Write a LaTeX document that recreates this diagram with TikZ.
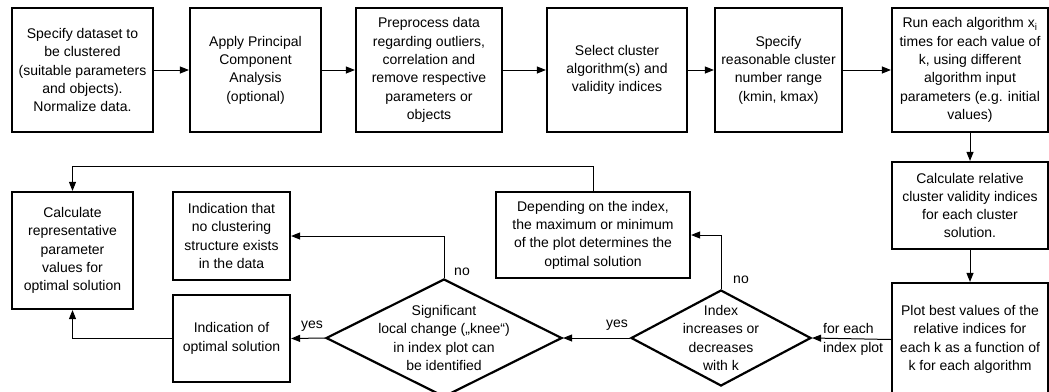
\documentclass[tikz,border=0pt]{standalone}
\usepackage{fontspec}
\setmainfont{Liberation Sans}
\usetikzlibrary{arrows.meta,shapes.geometric}
\newcommand{\fsz}{\fontsize{14}{18.3}\selectfont}
\tikzset{
  box/.style={draw, line width=2.2pt, align=center, inner sep=2pt, font=\fsz},
  dia/.style={draw, diamond, line width=2.2pt, inner sep=0pt},
  conn/.style={line width=1pt, -{Triangle[length=9pt,width=7pt]}},
  lbl/.style={font=\fsz, inner sep=0pt, align=left},
}
\begin{document}
\begin{tikzpicture}[x=1pt,y=-1pt]
\useasboundingbox (0,0) rectangle (1049,391);
% top row
\node[box, minimum width=141, minimum height=124] (b1) at (82.5,70)
  {Specify dataset to\\be clustered\\(suitable parameters\\and objects).\\Normalize data.};
\node[box, minimum width=131, minimum height=124] (b2) at (255.5,70)
  {Apply Principal\\Component\\Analysis\\(optional)};
\node[box, minimum width=146, minimum height=124] (b3) at (429,70)
  {Preprocess data\\regarding outliers,\\correlation and\\remove respective\\parameters or\\objects};
\node[box, minimum width=140, minimum height=124] (b4) at (617,70)
  {Select cluster\\algorithm(s) and\\validity indices};
\node[box, minimum width=127, minimum height=124] (b5) at (778.5,70)
  {Specify\\reasonable cluster\\number range\\(kmin, kmax)};
\node[box, minimum width=156, minimum height=124] (b6) at (970,70)
  {Run each algorithm x\textsubscript{i}\\times for each value of\\k, using different\\algorithm input\\parameters (e.g. initial\\values)};
% right column
\node[box, minimum width=156, minimum height=87] (calcrel) at (970,205.5)
  {Calculate relative\\cluster validity indices\\for each cluster\\solution.};
\node[box, minimum width=156, minimum height=113] (plot) at (970,339.5)
  {Plot best values of the\\relative indices for\\each k as a function of\\k for each algorithm};
% middle
\node[box, minimum width=194, minimum height=86] (dep) at (593,235)
  {Depending on the index,\\the maximum or minimum\\of the plot determines the\\optimal solution};
\node[box, minimum width=121, minimum height=117] (calcrep) at (72.5,250.5)
  {Calculate\\representative\\parameter\\values for\\optimal solution};
\node[box, minimum width=117, minimum height=88] (indthat) at (231.5,236)
  {Indication that\\no clustering\\structure exists\\in the data};
\node[box, minimum width=117, minimum height=87] (indopt) at (231.5,338.5)
  {Indication of\\optimal solution};
% diamonds
\node[dia, minimum width=180, minimum height=96,
  label={[font=\fsz, align=center]center:{Index\\increases or\\decreases\\with k}}] (idx) at (721,338) {};
\node[dia, minimum width=236, minimum height=118,
  label={[font=\fsz, align=center]center:{Significant\\local change („knee“)\\in index plot can\\be identified}}] (sig) at (444,338) {};
% connectors
\draw[conn] (b1.east) -- (b2.west);
\draw[conn] (b2.east) -- (b3.west);
\draw[conn] (b3.east) -- (b4.west);
\draw[conn] (b4.east) -- (b5.west);
\draw[conn] (b5.east) -- (b6.west);
\draw[conn] (b6.south) -- (calcrel.north);
\draw[conn] (calcrel.south) -- (plot.north);
\draw[conn] (plot.west) -- (idx.east);
\node[lbl, anchor=west] (lfe) at (823,339.5) {for each\\index plot};
\draw[conn] (idx.west) -- (sig.east);
\node[lbl] (lyes1) at (617,325) {yes};
\draw[conn] (idx.north) |- (dep.east);
\node[lbl] (lno1) at (741,280) {no};
\draw[conn] (dep.north) -- ++(0,-24) -| (calcrep.north);
\draw[conn] (sig.north) |- (indthat.east);
\node[lbl] (lno2) at (462,272) {no};
\draw[conn] (sig.west) -- (indopt.east);
\node[lbl] (lyes2) at (312,326) {yes};
\draw[conn] (indopt.west) -| (calcrep.south);
\end{tikzpicture}
\end{document}
